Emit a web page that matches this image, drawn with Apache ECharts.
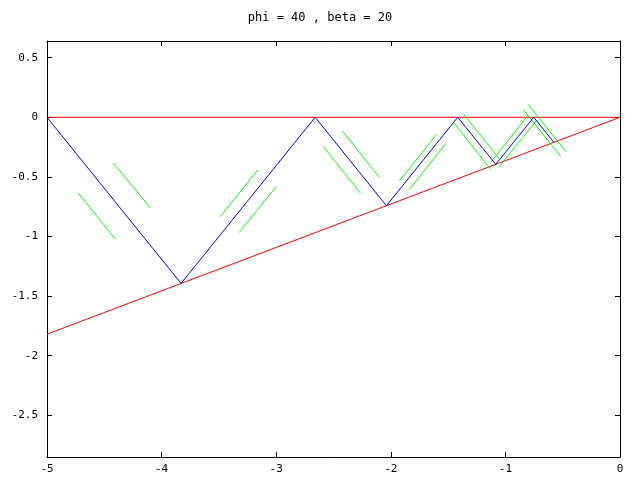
<!DOCTYPE html>
<html><head><meta charset="utf-8">
<script src="https://cdn.jsdelivr.net/npm/echarts@6/dist/echarts.min.js"></script>
<style>html,body{margin:0;padding:0;background:#fff}#c{width:640px;height:480px}</style>
</head><body><div id="c"></div>
<script>
const titleText = 'phi = 40 , beta = 20';
const yTicks = [-2.5, -2, -1.5, -1, -0.5, 0, 0.5];
// red: surface y=0 and inclined line
const redX = [-5, 0, -5];
const redY = [0, 0, -1.82];
// blue: bouncing path
const blueX = [-5, -3.830, -2.660, -2.038, -1.416, -1.084, -0.753, -0.577];
const blueY = [0, -1.394, 0, -0.742, 0, -0.395, 0, -0.210];
// green: short parallel segments
const greenX1 = [-4.727, -4.421, -3.488, -3.322, -2.589, -2.423, -1.926, -1.839, -1.449, -1.367, -1.130, -1.060, -0.844, -0.800];
const greenY1 = [-0.636, -0.383, -0.834, -0.966, -0.245, -0.112, -0.535, -0.606, -0.045, 0.031, -0.380, -0.420, 0.065, 0.107];
const greenX2 = [-4.401, -4.095, -3.161, -2.996, -2.263, -2.100, -1.600, -1.521, -1.128, -1.053, -0.800, -0.720, -0.517, -0.474];
const greenY2 = [-1.024, -0.763, -0.442, -0.578, -0.639, -0.504, -0.144, -0.223, -0.437, -0.349, 0.020, -0.020, -0.327, -0.285];

const FONT = 'DejaVu Sans Mono';
const black = '#000000';

function pairs(xs, ys) { return xs.map((x, i) => [x, ys[i]]); }
function lineSeries(data, color) {
  return { type: 'line', data: data, symbol: 'none', silent: true, animation: false,
    lineStyle: { color: color, width: 1 }, xAxisIndex: 0, yAxisIndex: 0 };
}

const series = [];
series.push(lineSeries(pairs(redX, redY), '#ff0000'));
for (let i = 0; i < greenX1.length; i++) {
  series.push(lineSeries([[greenX1[i], greenY1[i]], [greenX2[i], greenY2[i]]], '#00ff00'));
}
series.push(lineSeries(pairs(blueX, blueY), '#0000ff'));

const axisCommonX = {
  type: 'value', min: -5, max: 0, interval: 1,
  axisLine: { show: true, onZero: false, lineStyle: { color: black, width: 1 } },
  axisTick: { show: true, inside: true, length: 5, lineStyle: { color: black } },
  splitLine: { show: false }
};
const axisCommonY = {
  type: 'value', min: -2.85, max: 0.64,
  axisLine: { show: true, onZero: false, lineStyle: { color: black, width: 1 } },
  axisTick: { show: true, inside: true, length: 5, customValues: yTicks, lineStyle: { color: black } },
  splitLine: { show: false }
};

const option = {
  backgroundColor: '#ffffff',
  animation: false,
  title: { text: titleText, left: 'center', top: 7,
    textStyle: { fontFamily: FONT, fontSize: 12, fontWeight: 'normal', color: black } },
  grid: { left: 47, right: 20, top: 41, bottom: 23 },
  xAxis: [
    Object.assign({}, axisCommonX, { position: 'bottom',
      axisLabel: { show: true, color: black, fontFamily: FONT, fontSize: 11, margin: 7 } }),
    Object.assign({}, axisCommonX, { position: 'top', axisLabel: { show: false } })
  ],
  yAxis: [
    Object.assign({}, axisCommonY, { position: 'left',
      axisLabel: { show: true, customValues: yTicks, color: black, fontFamily: FONT, fontSize: 11, margin: 9 } }),
    Object.assign({}, axisCommonY, { position: 'right', axisLabel: { show: false } })
  ],
  series: series
};
const chart = echarts.init(document.getElementById('c'), null, { renderer: 'canvas' });
chart.setOption(option);
</script></body></html>
